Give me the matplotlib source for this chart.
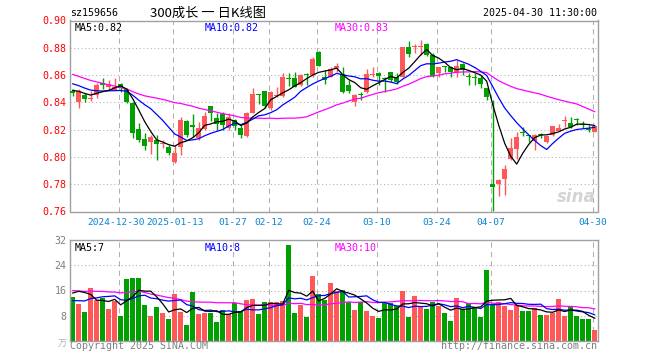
import numpy as np
import pandas as pd
import matplotlib
matplotlib.use("Agg")
import matplotlib.pyplot as plt

W, H = 660, 360

# closes / volumes before the window, only used to warm up the moving averages
PRE_CLOSE = [0.892, 0.889, 0.886, 0.884, 0.886, 0.884, 0.881, 0.878, 0.877, 0.876,
             0.862, 0.850, 0.840, 0.835, 0.836, 0.838, 0.840, 0.845, 0.848, 0.852,
             0.862, 0.860, 0.858, 0.857, 0.855, 0.852, 0.850, 0.849, 0.846]
PRE_VOL = [14, 15, 13, 16, 14, 15, 14, 16, 15, 14, 15, 22, 24, 20, 21,
           19, 21, 22, 20, 21, 12, 10, 9, 11, 10, 9, 11, 20, 22]

OPEN = [0.848, 0.840, 0.8454, 0.8424, 0.8454, 0.8544, 0.851, 0.849, 0.8534, 0.8495,
        0.8398, 0.8205, 0.8132, 0.8107, 0.8124, 0.8098, 0.8071, 0.7966, 0.8071, 0.8263,
        0.8234, 0.8137, 0.8203, 0.8374, 0.8283, 0.8315, 0.8210, 0.8270, 0.8210, 0.8154,
        0.8325, 0.8460, 0.8483, 0.8357, 0.8450, 0.8449, 0.8575, 0.8576, 0.8527, 0.8605,
        0.8600, 0.8767, 0.8583, 0.8588, 0.8650, 0.8608, 0.8527, 0.8405, 0.8457, 0.8479,
        0.8600, 0.8618, 0.8578, 0.8620, 0.8588, 0.8588, 0.8808, 0.8808, 0.8808, 0.8827,
        0.8747, 0.8618, 0.8659, 0.8657, 0.8618, 0.8679, 0.8590, 0.8582, 0.8580, 0.8503,
        0.7800, 0.7800, 0.7839, 0.7986, 0.8060, 0.8183, 0.8161, 0.8120, 0.8163, 0.8113,
        0.8161, 0.8191, 0.8262, 0.8247, 0.8273, 0.8237, 0.8200, 0.8186]
HIGH = [0.850, 0.850, 0.8466, 0.848, 0.8544, 0.8576, 0.8564, 0.8576, 0.8544, 0.8503,
        0.8405, 0.8246, 0.8173, 0.8161, 0.8161, 0.8124, 0.8088, 0.8088, 0.8290, 0.8271,
        0.8315, 0.8259, 0.8332, 0.8374, 0.8320, 0.8332, 0.8320, 0.8276, 0.8235, 0.8332,
        0.8503, 0.8460, 0.8483, 0.8483, 0.8515, 0.8613, 0.8613, 0.8620, 0.8608, 0.8613,
        0.8735, 0.8780, 0.8637, 0.8657, 0.8686, 0.8657, 0.8564, 0.8462, 0.8479, 0.8642,
        0.8657, 0.8625, 0.8583, 0.8620, 0.8613, 0.8808, 0.8852, 0.8828, 0.8857, 0.8832,
        0.8759, 0.8662, 0.8666, 0.8666, 0.8710, 0.8686, 0.8613, 0.8613, 0.8601, 0.8503,
        0.8420, 0.7835, 0.7942, 0.8137, 0.8181, 0.8222, 0.8161, 0.8166, 0.8173, 0.8157,
        0.8227, 0.8240, 0.8300, 0.8296, 0.8288, 0.8260, 0.8235, 0.8230]
LOW = [0.845, 0.836, 0.8405, 0.8412, 0.8429, 0.850, 0.849, 0.849, 0.8478, 0.8393,
       0.8137, 0.8112, 0.8051, 0.8022, 0.7978, 0.8063, 0.8015, 0.7954, 0.8015, 0.8149,
       0.8149, 0.8124, 0.8198, 0.8266, 0.8198, 0.8198, 0.8198, 0.8198, 0.8137, 0.8149,
       0.8320, 0.8388, 0.8357, 0.8344, 0.8442, 0.8442, 0.8520, 0.8510, 0.8520, 0.8527,
       0.8588, 0.8666, 0.8535, 0.8583, 0.8625, 0.8466, 0.8466, 0.8374, 0.8418, 0.8471,
       0.8588, 0.8527, 0.8479, 0.8552, 0.8535, 0.8583, 0.8730, 0.8764, 0.8747, 0.8740,
       0.8588, 0.8583, 0.8625, 0.8588, 0.8583, 0.8601, 0.8527, 0.8527, 0.8503, 0.8418,
       0.7600, 0.7713, 0.7718, 0.7978, 0.7986, 0.8157, 0.8108, 0.8052, 0.8137, 0.8100,
       0.8154, 0.8191, 0.8222, 0.8215, 0.8235, 0.8210, 0.8181, 0.8181]
CLOSE = [0.847, 0.8485, 0.8422, 0.8429, 0.8527, 0.8527, 0.8534, 0.8515, 0.8503, 0.8405,
         0.8178, 0.8124, 0.8083, 0.8144, 0.8095, 0.8100, 0.8027, 0.8027, 0.8271, 0.8161,
         0.8217, 0.8210, 0.8300, 0.8320, 0.8239, 0.8235, 0.8290, 0.8230, 0.8160, 0.8325,
         0.8459, 0.8455, 0.8374, 0.8479, 0.8451, 0.8588, 0.8568, 0.8515, 0.8600, 0.8600,
         0.8718, 0.8666, 0.8564, 0.8642, 0.8665, 0.8479, 0.8486, 0.8454, 0.8452, 0.8608,
         0.8608, 0.8596, 0.8574, 0.8564, 0.8552, 0.8808, 0.8754, 0.8813, 0.8813, 0.8747,
         0.8593, 0.8657, 0.8657, 0.8620, 0.8669, 0.8637, 0.8586, 0.8578, 0.8532, 0.8442,
         0.7783, 0.7830, 0.7910, 0.8064, 0.8149, 0.8179, 0.8154, 0.8161, 0.8159, 0.8157,
         0.8227, 0.8215, 0.8266, 0.8222, 0.8269, 0.8233, 0.8196, 0.8230]
VOLUME = [14.0, 11.7, 9.2, 16.8, 13.0, 13.5, 10.1, 12.7, 7.9, 19.7,
          20.0, 20.0, 11.4, 7.9, 10.8, 8.9, 7.0, 14.9, 9.2, 5.1,
          15.5, 8.6, 8.9, 8.9, 6.0, 9.8, 8.6, 12.0, 9.5, 13.0,
          13.3, 8.6, 12.4, 12.4, 12.4, 12.7, 30.4, 8.9, 11.4, 7.6,
          20.6, 14.9, 13.0, 18.4, 15.9, 16.2, 12.4, 9.8, 12.4, 9.5,
          7.9, 7.3, 12.4, 12.0, 11.1, 15.9, 7.6, 14.3, 11.1, 10.1,
          12.4, 11.1, 8.9, 6.3, 13.6, 10.1, 12.0, 10.8, 7.6, 22.5,
          11.7, 12.4, 11.1, 9.8, 11.4, 9.5, 9.5, 10.5, 8.3, 8.3,
          8.9, 13.3, 7.9, 10.8, 7.9, 7.0, 7.0, 3.5]

TICK_IDX = [8, 17, 27, 33, 41, 51, 61, 70, 87]
TICK_LABELS = ["2024-12-30", "2025-01-13", "01-27", "02-12", "02-24",
               "03-10", "03-24", "04-07", "04-30"]
PRICE_TICKS = [0.90, 0.88, 0.86, 0.84, 0.82, 0.80, 0.78, 0.76]
VOL_TICKS = [32, 24, 16, 8]

RED = "#ff5858"
GREEN = "#00a000"
GRAY = "#a0a0a0"
MONO = "DejaVu Sans Mono"
FS = 7.2


def px_box(left, top, right, bottom):
    return [left / W, 1 - bottom / H, (right - left) / W, (bottom - top) / H]


def ma(pre, vals, n):
    s = pd.Series(list(pre) + list(vals)).rolling(n).mean()
    return s.iloc[len(pre):].to_numpy()


def style_axes(ax):
    for sp in ax.spines.values():
        sp.set_color(GRAY)
        sp.set_linewidth(1.0)
    ax.tick_params(length=0)
    for t in TICK_IDX:
        ax.axvline(t - 0.33, color="#b0b0b0", lw=0.75, ls=(0, (5, 4)), zorder=0)


n = len(CLOSE)
x = np.arange(n)
o, h, l, c = map(np.array, (OPEN, HIGH, LOW, CLOSE))
up = c >= o
colors = np.where(up, RED, GREEN)

fig = plt.figure(figsize=(W / 100, H / 100), dpi=100)
ax = fig.add_axes(px_box(70, 20.5, 598, 211.5))
axv = fig.add_axes(px_box(70, 240, 598, 341))

# ---- price panel
style_axes(ax)
for lev in [0.88, 0.86, 0.84, 0.82, 0.80, 0.78]:
    ax.axhline(lev, color="#b0b0b0", lw=0.75, ls=(0, (1, 2.5)), zorder=0)
ax.vlines(x, l, h, colors=colors, lw=1.0, zorder=2)
body = np.maximum(np.abs(c - o), 0.0006)
ax.bar(x, body, bottom=np.minimum(o, c), width=0.75, color=colors, lw=0, zorder=3)

close_ma5 = ma(PRE_CLOSE, CLOSE, 5)
close_ma10 = ma(PRE_CLOSE, CLOSE, 10)
close_ma30 = ma(PRE_CLOSE, CLOSE, 30)
ax.plot(x, close_ma30, color="#ff00ff", lw=0.9, zorder=4)
ax.plot(x, close_ma10, color="#0000ff", lw=0.9, zorder=4)
ax.plot(x, close_ma5, color="black", lw=0.9, zorder=4)

ax.set_xlim(-0.45, 87.55)
ax.set_ylim(0.76, 0.90)
ax.set_yticks(PRICE_TICKS)
ax.set_yticklabels([f"{v:.2f}" for v in PRICE_TICKS], color="red",
                   family=MONO, fontsize=FS)
ax.tick_params(axis="y", pad=2.5)
# the first two date labels sit very close; nudge them apart a little
nudge = [-0.37, 0.37] + [0] * (len(TICK_IDX) - 2)
ax.set_xticks([t - 0.33 + d for t, d in zip(TICK_IDX, nudge)])
ax.set_xticklabels(TICK_LABELS, color="#0a84d0", family=MONO, fontsize=6.8)
ax.tick_params(axis="x", pad=4.5)

ax.text(0.008, 0.985, f"MA5:{close_ma5[-1]:.2f}", transform=ax.transAxes,
        color="black", family=MONO, fontsize=FS, va="top")
ax.text(0.255, 0.985, f"MA10:{close_ma10[-1]:.2f}", transform=ax.transAxes,
        color="#0000ff", family=MONO, fontsize=FS, va="top")
ax.text(0.501, 0.985, f"MA30:{close_ma30[-1]:.2f}", transform=ax.transAxes,
        color="#ff00ff", family=MONO, fontsize=FS, va="top")

# sina watermark
ax.text(0.995, 0.03, "sina", transform=ax.transAxes, ha="right", va="bottom",
        color="#d4d4d4", fontsize=12, fontweight="bold", style="italic", zorder=1)

# ---- volume panel
style_axes(axv)
for lev in [24, 16, 8]:
    axv.axhline(lev, color="#b0b0b0", lw=0.75, ls=(0, (1, 2.5)), zorder=0)
axv.bar(x, VOLUME, width=0.83, color=colors, lw=0, zorder=2)
vol_ma5 = ma(PRE_VOL, VOLUME, 5)
vol_ma10 = ma(PRE_VOL, VOLUME, 10)
vol_ma30 = ma(PRE_VOL, VOLUME, 30)
axv.plot(x, vol_ma30, color="#ff00ff", lw=0.9, zorder=4)
axv.plot(x, vol_ma10, color="#0000ff", lw=0.9, zorder=4)
axv.plot(x, vol_ma5, color="black", lw=0.9, zorder=4)
axv.set_xlim(-0.45, 87.55)
axv.set_ylim(0, 32)
axv.set_xticks([])
axv.set_yticks(VOL_TICKS)
axv.set_yticklabels([str(v) for v in VOL_TICKS], color="#808080",
                    family=MONO, fontsize=FS)
axv.tick_params(axis="y", pad=2.5)
axv.text(0.008, 0.97, f"MA5:{vol_ma5[-1]:.0f}", transform=axv.transAxes,
         color="black", family=MONO, fontsize=FS, va="top")
axv.text(0.255, 0.97, f"MA10:{vol_ma10[-1]:.0f}", transform=axv.transAxes,
         color="#0000ff", family=MONO, fontsize=FS, va="top")
axv.text(0.501, 0.97, f"MA30:{vol_ma30[-1]:.0f}", transform=axv.transAxes,
         color="#ff00ff", family=MONO, fontsize=FS, va="top")

# ---- header / footer
fig.text(70 / W, 1 - 13 / H, "sz159656", family=MONO, fontsize=FS, va="center")
fig.text(150 / W, 1 - 13 / H, "300成长 一 日K线图",
         family=["Noto Sans CJK SC", "DejaVu Sans"], fontsize=9.5, va="center")
fig.text(597 / W, 1 - 13 / H, "2025-04-30 11:30:00", family=MONO, fontsize=FS,
         va="center", ha="right")
fig.text(67 / W, 1 - 344 / H, "万", family=["Noto Sans CJK SC"], fontsize=6.5,
         color="#b0b0b0", va="center", ha="right")
fig.text(70 / W, 1 - 346 / H, "Copyright 2025 SINA.COM", family=MONO,
         fontsize=FS, color="#808080", va="center")
fig.text(597 / W, 1 - 346 / H, "http://finance.sina.com.cn", family=MONO,
         fontsize=FS, color="#808080", va="center", ha="right")

fig.savefig("out.png", dpi=100)
